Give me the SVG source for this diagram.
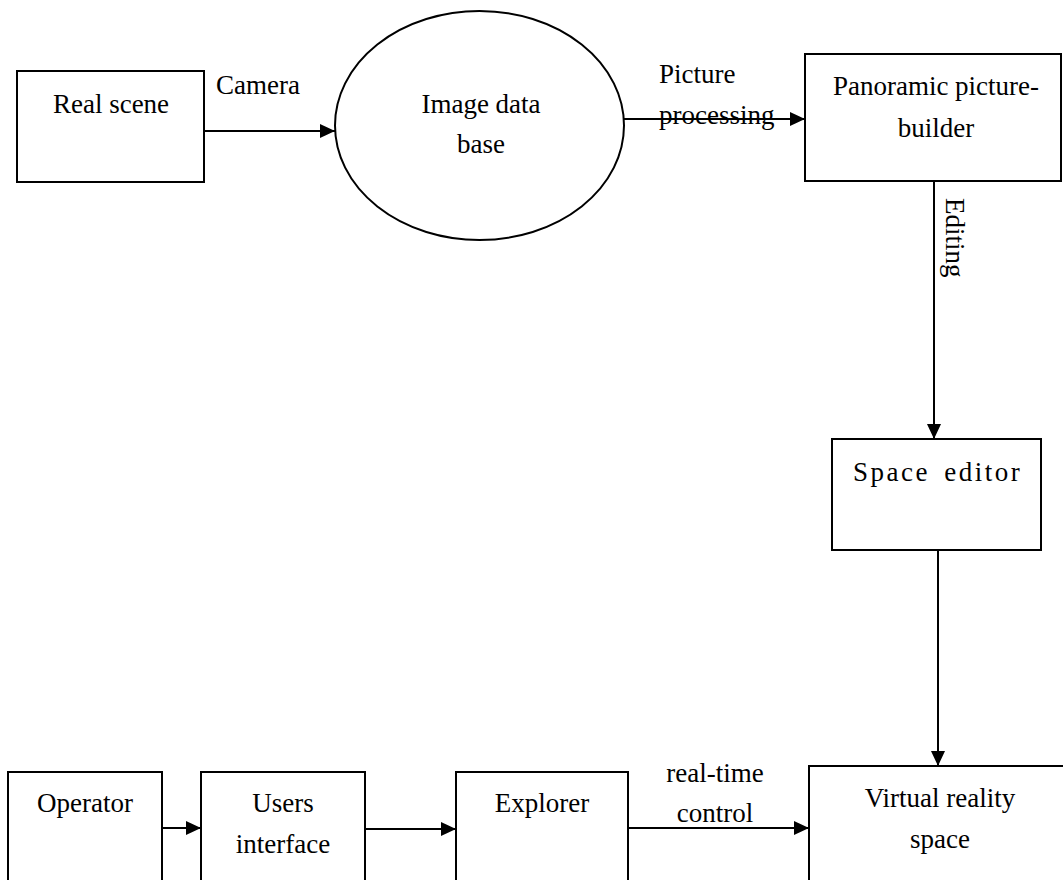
<svg xmlns="http://www.w3.org/2000/svg" width="1063" height="880" viewBox="0 0 1063 880">
<style>
.box{fill:#fff;stroke:#000;stroke-width:2}
.t{font-family:"Liberation Serif","Times New Roman",serif;font-size:27px;fill:#000}
.c{text-anchor:middle}
.ln{fill:none;stroke:#000;stroke-width:2}
</style>
<defs>
<marker id="ah" markerUnits="userSpaceOnUse" markerWidth="16" markerHeight="16" viewBox="0 0 16 16" refX="15" refY="8" orient="auto">
<path d="M0,1 L15,8 L0,15 Z" fill="#000"/>
</marker>
</defs>
<rect width="1063" height="880" fill="#fff"/>
<g id="connectors">
<line class="ln" x1="204" y1="131" x2="335" y2="131" marker-end="url(#ah)"/>
<line class="ln" x1="623" y1="119" x2="805" y2="119" marker-end="url(#ah)"/>
<line class="ln" x1="934" y1="182" x2="934" y2="439" marker-end="url(#ah)"/>
<line class="ln" x1="938" y1="550" x2="938" y2="766" marker-end="url(#ah)"/>
<line class="ln" x1="162" y1="828" x2="201" y2="828" marker-end="url(#ah)"/>
<line class="ln" x1="365" y1="829" x2="456" y2="829" marker-end="url(#ah)"/>
<line class="ln" x1="628" y1="828" x2="809" y2="828" marker-end="url(#ah)"/>
<text class="t" x="216" y="94">Camera</text>
<text class="t" x="659" y="83">Picture</text>
<text class="t" x="659" y="124">processing</text>
<text class="t" transform="translate(946,198) rotate(90)">Editing</text>
<text class="t c" x="715" y="782">real-time</text>
<text class="t c" x="715" y="822">control</text>
</g>
<g id="real-scene">
<rect class="box" x="17" y="71" width="187" height="111"/>
<text class="t c" x="111" y="113">Real scene</text>
</g>
<g id="image-database">
<ellipse class="box" cx="479.5" cy="125.5" rx="144.5" ry="114.5"/>
<text class="t c" x="481" y="113">Image data</text>
<text class="t c" x="481" y="153">base</text>
</g>
<g id="panoramic-builder">
<rect class="box" x="805" y="54" width="256" height="127"/>
<text class="t c" x="936" y="95">Panoramic picture-</text>
<text class="t c" x="936" y="137">builder</text>
</g>
<g id="space-editor">
<rect class="box" x="832" y="439" width="209" height="111"/>
<text class="t" x="853" y="481" letter-spacing="2.5" word-spacing="5">Space editor</text>
</g>
<g id="virtual-reality-space">
<rect class="box" x="809" y="766" width="260" height="130"/>
<text class="t c" x="940" y="807">Virtual reality</text>
<text class="t c" x="940" y="848">space</text>
</g>
<g id="operator">
<rect class="box" x="8" y="772" width="154" height="130"/>
<text class="t c" x="85" y="812">Operator</text>
</g>
<g id="users-interface">
<rect class="box" x="201" y="772" width="164" height="130"/>
<text class="t c" x="283" y="812">Users</text>
<text class="t c" x="283" y="853">interface</text>
</g>
<g id="explorer">
<rect class="box" x="456" y="772" width="172" height="130"/>
<text class="t c" x="542" y="812">Explorer</text>
</g>
</svg>
